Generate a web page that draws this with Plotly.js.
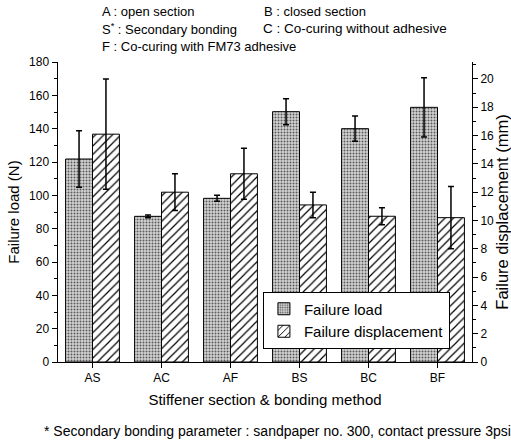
<!DOCTYPE html>
<html>
<head>
<meta charset="utf-8">
<script src="https://cdn.plot.ly/plotly-3.0.1.min.js"></script>
<style>html,body{margin:0;padding:0;background:#fff;}#chart{width:511px;height:446px;}</style>
</head>
<body>
<div id="chart"></div>
<script>
const categories = ["AS", "AC", "AF", "BS", "BC", "BF"];
const failureLoad = [121.8, 87.4, 98.2, 150.2, 140.0, 152.8];
const failureLoadErr = [17, 0.8, 1.8, 7.8, 7.6, 17.8];
const failureDisp = [16.1, 12.0, 13.3, 11.1, 10.3, 10.2];
const failureDispErr = [3.9, 1.3, 1.8, 0.9, 0.6, 2.2];
const seriesNames = ["Failure load", "Failure displacement"];

const font = "Liberation Sans, Arial, sans-serif";

const traces = [
  {
    type: "bar", x: categories, y: failureLoad, name: seriesNames[0],
    yaxis: "y", offsetgroup: "a", width: 0.39, offset: -0.39,
    marker: {color: "#b8b8b8", line: {color: "#000", width: 1},
      pattern: {shape: ".", fgcolor: "#5a5a5a", bgcolor: "#d4d4d4", size: 3, solidity: 0.35}},
    error_y: {type: "data", array: failureLoadErr, visible: true, color: "#000", thickness: 1.5, width: 3}
  },
  {
    type: "bar", x: categories, y: failureDisp, name: seriesNames[1],
    yaxis: "y2", offsetgroup: "b", width: 0.39, offset: 0,
    marker: {color: "#fff", line: {color: "#000", width: 1},
      pattern: {shape: "/", fgcolor: "#000", bgcolor: "#fff", size: 6, solidity: 0.2}},
    error_y: {type: "data", array: failureDispErr, visible: true, color: "#000", thickness: 1.5, width: 3}
  }
];

const layout = {
  width: 511, height: 446,
  margin: {l: 58, r: 39, t: 62, b: 84},
  paper_bgcolor: "#fff", plot_bgcolor: "#fff",
  font: {family: font, size: 12, color: "#000"},
  barmode: "group",
  showlegend: true,
  legend: {x: 0.495, y: 0.235, xanchor: "left", yanchor: "top", bgcolor: "#fff",
    bordercolor: "#000", borderwidth: 1, font: {size: 15, family: font}, tracegroupgap: 0,
    itemwidth: 30},
  xaxis: {
    type: "category", range: [-0.5, 5.5], showline: true, linecolor: "#000", linewidth: 1,
    ticks: "outside", ticklen: 5, tickcolor: "#000", showgrid: false, zeroline: false,
    minor: {ticks: "outside", ticklen: 3, tickcolor: "#000", dtick: 1, tick0: 0.5},
    tickfont: {size: 12},
    title: {text: "Stiffener section & bonding method", font: {size: 15}, standoff: 10}
  },
  yaxis: {
    range: [0, 180], dtick: 20, showline: true, linecolor: "#000", linewidth: 1.5,
    ticks: "outside", ticklen: 5, tickcolor: "#000", showgrid: false, zeroline: false,
    minor: {ticks: "outside", ticklen: 3, dtick: 10, tickcolor: "#000"},
    tickfont: {size: 12},
    title: {text: "Failure load (N)", font: {size: 15}, standoff: 6}
  },
  yaxis2: {
    overlaying: "y", side: "right", range: [0, 21.2], dtick: 2, showline: true,
    linecolor: "#000", linewidth: 1, ticks: "outside", ticklen: 5, tickcolor: "#000",
    showgrid: false, zeroline: false,
    minor: {ticks: "outside", ticklen: 3, dtick: 1, tickcolor: "#000"},
    tickfont: {size: 12},
    title: {text: "Failure displacement (mm)", font: {size: 16.5}, standoff: 8}
  }
};

const notes = [
  {text: "A : open section", x: 100, y: 12, size: 13},
  {text: "B : closed section", x: 262, y: 12, size: 13},
  {text: "S<sup>*</sup> : Secondary bonding", x: 100, y: 29, size: 13},
  {text: "C : Co-curing without adhesive", x: 261, y: 29, size: 13.5},
  {text: "F : Co-curing with FM73 adhesive", x: 100, y: 46, size: 13},
  {text: "* Secondary bonding parameter : sandpaper no. 300, contact pressure 3psi", x: 42, y: 431, size: 14}
];
const plotW = 511 - 58 - 39, plotH = 446 - 62 - 84;
layout.annotations = notes.map(n => ({
  text: n.text, xref: "paper", yref: "paper",
  x: (n.x - 58) / plotW, y: (446 - 84 - n.y) / plotH,
  xanchor: "left", yanchor: "middle", showarrow: false,
  font: {size: n.size, family: font, color: "#000"}
}));

Plotly.newPlot("chart", traces, layout, {staticPlot: true});
</script>
</body>
</html>
